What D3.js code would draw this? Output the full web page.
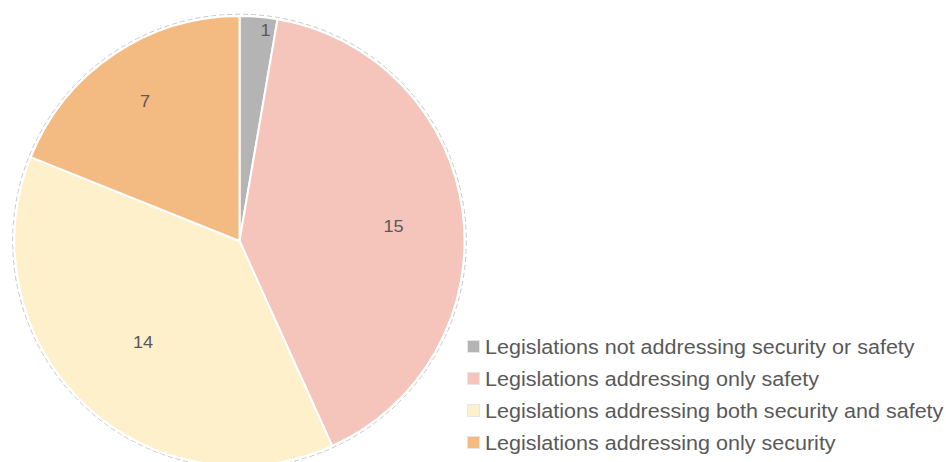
<!DOCTYPE html>
<html>
<head>
<meta charset="utf-8">
<script src="https://cdn.jsdelivr.net/npm/d3@7"></script>
<style>
  html, body { margin: 0; padding: 0; background: #ffffff; }
  svg { display: block; }
  text { font-family: "Liberation Sans", Arial, sans-serif; }
</style>
</head>
<body>
<svg id="chart" width="946" height="462"></svg>
<script>
// Legislation counts by what they address
const categories = [
  "Legislations not addressing security or safety",
  "Legislations addressing only safety",
  "Legislations addressing both security and safety",
  "Legislations addressing only security"
];
const counts = [1, 15, 14, 7];
const colors = ["#b4b4b4", "#f5c4bb", "#fff0cc", "#f3ba81"];

// Label placement: radius as a fraction of the pie radius, plus small nudges
const labelRadius = [0.94, 0.69, 0.62, 0.75];
const labelNudge = [[8, 0], [0, 5], [0, 0], [0, 0]];

const width = 946, height = 462;
const cx = 239.5, cy = 241, r = 225;

const svg = d3.select("#chart");
const data = categories.map((c, i) => ({ name: c, value: counts[i], color: colors[i], i }));

const pie = d3.pie().value(d => d.value).sort(null);
const arcs = pie(data);
const arc = d3.arc().innerRadius(0).outerRadius(r);

const g = svg.append("g").attr("transform", `translate(${cx},${cy})`);

// faint dashed outline around the pie
g.append("circle")
  .attr("r", r + 1.8)
  .attr("fill", "none")
  .attr("stroke", "#c8c8c8")
  .attr("stroke-width", 1)
  .attr("stroke-dasharray", "5,3");

g.selectAll("path.slice")
  .data(arcs)
  .join("path")
  .attr("class", "slice")
  .attr("d", arc)
  .attr("fill", d => d.data.color)
  .attr("stroke", "#ffffff")
  .attr("stroke-width", 2)
  .attr("stroke-linejoin", "round");

g.selectAll("text.val")
  .data(arcs)
  .join("text")
  .attr("class", "val")
  .attr("transform", d => {
    const lr = r * labelRadius[d.data.i];
    const c = d3.arc().innerRadius(lr).outerRadius(lr).centroid(d);
    const n = labelNudge[d.data.i];
    return `translate(${c[0] + n[0]},${c[1] + n[1]}) scale(1.1,1)`;
  })
  .attr("text-anchor", "middle")
  .attr("dy", "0.36em")
  .attr("font-size", 16.5)
  .attr("fill", "#595959")
  .text(d => d.data.value);

// Legend
const legend = svg.append("g").attr("transform", "translate(467,347)");
const rowH = 32;
const item = legend.selectAll("g.item")
  .data(data)
  .join("g")
  .attr("class", "item")
  .attr("transform", (d, i) => `translate(0,${i * rowH})`);

item.append("rect")
  .attr("x", 0.5)
  .attr("y", -6.5)
  .attr("width", 12)
  .attr("height", 12)
  .attr("fill", d => d.color)
  .attr("stroke", "#e6e6e6")
  .attr("stroke-width", 1);

item.append("text")
  .attr("transform", "translate(18,0) scale(1.105,1)")
  .attr("dy", "0.35em")
  .attr("font-size", 19.5)
  .attr("fill", "#595959")
  .text(d => d.name);
</script>
</body>
</html>
